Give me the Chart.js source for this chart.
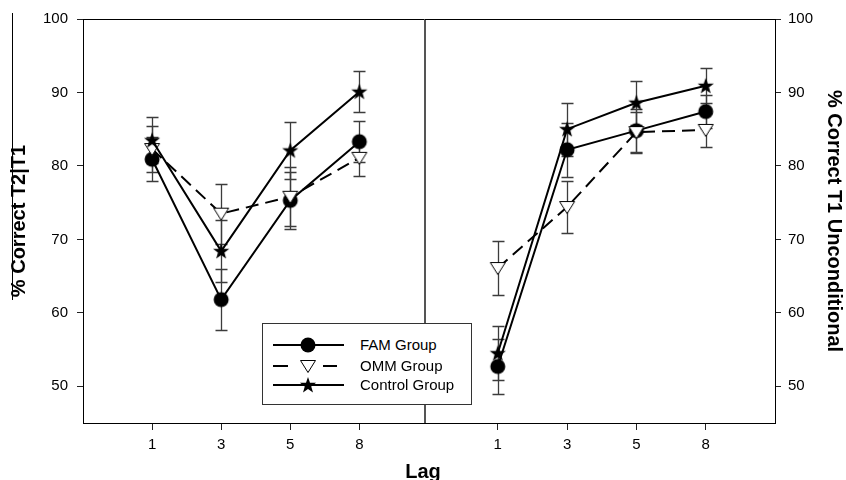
<!DOCTYPE html>
<html>
<head>
<meta charset="utf-8">
<script src="https://cdn.jsdelivr.net/npm/chart.js@4.4.0/dist/chart.umd.min.js"></script>
<style>
  body { margin: 0; background: #fff; }
  #wrap { position: relative; width: 846px; height: 480px; font-family: 'Liberation Sans', Arial, sans-serif; }
  #leftChart { position: absolute; left: 0; top: 0; }
  #rightChart { position: absolute; left: 424px; top: 0; }
  #lagTitle { position: absolute; left: 0; top: 459px; width: 846px; text-align: center; font-size: 20px; font-weight: bold; line-height: 24px; }
  #overline { position: absolute; left: 12px; top: 13px; width: 1px; height: 287px; background: #000; }
  #legend { position: absolute; left: 262px; top: 323px; width: 210px; height: 82px; box-sizing: border-box; border: 1px solid #333; background: #fff; }
  #legend .row { position: absolute; left: 0; height: 22px; width: 208px; }
  #legend canvas { position: absolute; left: 8px; top: 0; }
  #legend span { position: absolute; left: 97px; top: 0; font-size: 15px; line-height: 22px; color: #000; white-space: nowrap; }
</style>
</head>
<body>
<div id="wrap">
  <canvas id="leftChart" width="426" height="480"></canvas>
  <canvas id="rightChart" width="422" height="480"></canvas>
  <div id="overline"></div>
  <div id="lagTitle">Lag</div>
  <div id="legend">
    <div class="row" style="top:10px"><canvas id="lgFam" width="80" height="22"></canvas><span>FAM Group</span></div>
    <div class="row" style="top:31px"><canvas id="lgOmm" width="80" height="22"></canvas><span>OMM Group</span></div>
    <div class="row" style="top:50px"><canvas id="lgCtl" width="80" height="22"></canvas><span>Control Group</span></div>
  </div>
</div>
<script>
const lags = ['1', '3', '5', '8'];
const yTicks = [50, 60, 70, 80, 90, 100];

// % Correct T2|T1 (left panel), means and error bars
const famT2 = [80.9, 61.8, 75.3, 83.3];
const famT2Err = [3.0, 4.2, 3.9, 2.8];
const ommT2 = [82.3, 73.5, 75.8, 81.1];
const ommT2Err = [3.1, 4.1, 4.0, 2.5];
const ctlT2 = [83.5, 68.4, 82.1, 90.1];
const ctlT2Err = [3.1, 4.2, 3.9, 2.8];

// % Correct T1 unconditional (right panel)
const famT1 = [52.7, 82.2, 84.8, 87.4];
const famT1Err = [3.8, 3.7, 3.0, 2.2];
const ommT1 = [66.1, 74.4, 84.6, 84.9];
const ommT1Err = [3.7, 3.6, 2.7, 2.3];
const ctlT1 = [54.5, 85.0, 88.6, 90.9];
const ctlT1Err = [3.7, 3.6, 3.0, 2.4];

Chart.defaults.font.family = "'Liberation Sans', Arial, sans-serif";
Chart.defaults.color = '#000';

// marker images (filled circle, open down triangle, filled star)
function makeMarker(kind) {
    const c = document.createElement('canvas');
    c.width = 20; c.height = 20;
    const g = c.getContext('2d');
    g.fillStyle = '#000';
    g.strokeStyle = '#000';
    g.lineWidth = 1;
    g.beginPath();
    if (kind === 'circle') {
        g.arc(10, 10, 7.5, 0, Math.PI * 2);
        g.fill();
    } else if (kind === 'triangle') {
        g.moveTo(2.5, 4.5);
        g.lineTo(17.5, 4.5);
        g.lineTo(10, 16.5);
        g.closePath();
        g.fillStyle = '#fff';
        g.fill();
        g.stroke();
    } else {
        for (let i = 0; i < 10; i++) {
            const a = -Math.PI / 2 + i * Math.PI / 5;
            const r = i % 2 ? 3.4 : 8.5;
            const px = 10 + Math.cos(a) * r, py = 10.5 + Math.sin(a) * r;
            if (i === 0) g.moveTo(px, py); else g.lineTo(px, py);
        }
        g.closePath();
        g.fill();
    }
    return c;
}
const circleImg = makeMarker('circle');
const triImg = makeMarker('triangle');
const starImg = makeMarker('star');

function series(label, values, errs, marker, dash, order) {
    return {
        label: label,
        data: values.map((v, i) => ({ x: i, y: v })),
        errorBars: errs,
        borderColor: '#000',
        borderWidth: 2,
        borderDash: dash,
        pointStyle: marker,
        pointRadius: 8,
        pointHoverRadius: 8,
        tension: 0,
        clip: false,
        order: order
    };
}

const errorBarPlugin = {
    id: 'errorBars',
    beforeDatasetsDraw(chart) {
        const { ctx, scales: { x, y } } = chart;
        ctx.save();
        ctx.strokeStyle = '#3c3c3c';
        ctx.lineWidth = 1.3;
        chart.data.datasets.forEach(ds => {
            ds.data.forEach((p, i) => {
                const e = ds.errorBars[i];
                const px = Math.round(x.getPixelForValue(p.x)) + 0.5;
                const top = Math.round(y.getPixelForValue(p.y + e)) + 0.5;
                const bot = Math.round(y.getPixelForValue(p.y - e)) + 0.5;
                ctx.beginPath();
                ctx.moveTo(px, top); ctx.lineTo(px, bot);
                ctx.moveTo(px - 6, top); ctx.lineTo(px + 6, top);
                ctx.moveTo(px - 6, bot); ctx.lineTo(px + 6, bot);
                ctx.stroke();
            });
        });
        ctx.restore();
    }
};

const framePlugin = {
    id: 'frame',
    afterDraw(chart, args, opts) {
        const { ctx, chartArea: a } = chart;
        ctx.save();
        ctx.strokeStyle = '#000';
        ctx.lineWidth = 1;
        ctx.beginPath();
        ctx.moveTo(a.left, Math.round(a.top) + 0.5);
        ctx.lineTo(a.right, Math.round(a.top) + 0.5);
        ctx.stroke();
        if (opts.divider) {
            ctx.strokeStyle = '#555';
            ctx.lineWidth = 2;
            ctx.beginPath();
            ctx.moveTo(a.right, a.top);
            ctx.lineTo(a.right, a.bottom);
            ctx.stroke();
        }
        ctx.restore();
    }
};

function makeOptions(side, xMin, xMax, title) {
    const isLeft = side === 'left';
    return {
        responsive: false,
        animation: false,
        layout: { autoPadding: false, padding: isLeft ? { top: 19, right: 1 } : { top: 19, left: 1 } },
        plugins: {
            legend: { display: false },
            tooltip: { enabled: false },
            frame: { divider: isLeft }
        },
        scales: {
            x: {
                type: 'linear',
                min: xMin,
                max: xMax,
                afterBuildTicks: s => { s.ticks = lags.map((_, i) => ({ value: i })); },
                afterFit: s => { s.height = 57; s.paddingLeft = 0; s.paddingRight = 0; },
                grid: { display: true, drawOnChartArea: false, tickLength: 7, color: '#222', lineWidth: 1 },
                border: { display: true, color: '#000', width: 1 },
                ticks: { callback: v => lags[v], padding: 6, font: { size: 15 }, maxRotation: 0, autoSkip: false }
            },
            y: {
                position: side,
                min: 45,
                max: 100,
                afterBuildTicks: s => { s.ticks = yTicks.map(v => ({ value: v })); },
                afterFit: s => { s.width = isLeft ? 83 : 71; s.paddingTop = 0; s.paddingBottom = 0; },
                grid: { display: true, drawOnChartArea: false, tickLength: 6, color: '#222', lineWidth: 1 },
                border: { display: true, color: '#000', width: 1 },
                ticks: { padding: isLeft ? 9 : 7, font: { size: 15 } },
                title: {
                    display: true,
                    text: title,
                    font: { size: 20, weight: 'bold' },
                    padding: { top: isLeft ? 7 : 0, bottom: 0 }
                }
            }
        }
    };
}

new Chart(document.getElementById('leftChart'), {
    type: 'line',
    data: {
        datasets: [
            series('FAM Group', famT2, famT2Err, circleImg, [], 2),
            series('OMM Group', ommT2, ommT2Err, triImg, [13, 7], 1),
            series('Control Group', ctlT2, ctlT2Err, starImg, [], 0)
        ]
    },
    options: makeOptions('left', -1, 3.95, '% Correct T2|T1'),
    plugins: [errorBarPlugin, framePlugin]
});

new Chart(document.getElementById('rightChart'), {
    type: 'line',
    data: {
        datasets: [
            series('FAM Group', famT1, famT1Err, circleImg, [], 2),
            series('OMM Group', ommT1, ommT1Err, triImg, [13, 7], 1),
            series('Control Group', ctlT1, ctlT1Err, starImg, [], 0)
        ]
    },
    options: makeOptions('right', -1.05, 4.0, '% Correct T1 Unconditional'),
    plugins: [errorBarPlugin, framePlugin]
});

// legend symbols
function legendSymbol(id, img, dashed) {
    const g = document.getElementById(id).getContext('2d');
    g.strokeStyle = '#000';
    g.lineWidth = 2;
    g.beginPath();
    if (dashed) {
        g.moveTo(2, 11); g.lineTo(17, 11);
        g.moveTo(52, 11); g.lineTo(66, 11);
    } else {
        g.moveTo(2, 11); g.lineTo(73, 11);
    }
    g.stroke();
    g.drawImage(img, 27, 1);
}
legendSymbol('lgFam', circleImg, false);
legendSymbol('lgOmm', triImg, true);
legendSymbol('lgCtl', starImg, false);
</script>
</body>
</html>
